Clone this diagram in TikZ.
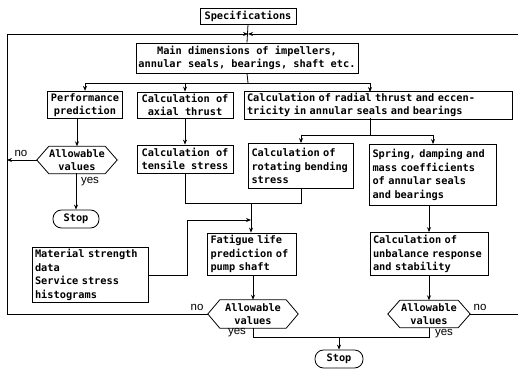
\documentclass[tikz,border=0pt]{standalone}
\usepackage{fontspec}
\setmonofont{DejaVu Sans Mono}
\setsansfont{Liberation Sans}
\usetikzlibrary{arrows.meta}
\tikzset{
  txt/.style={font=\ttfamily\bfseries\fontsize{10.3}{13.5}\selectfont},
  box/.style={txt, draw, line width=0.8pt, inner sep=2pt, align=center},
  lbox/.style={txt, draw, line width=0.8pt, inner xsep=3pt, inner ysep=2pt, align=left},
  hexa/.style={txt, inner sep=0pt, align=center},
  frame/.style={line width=0.8pt},
  stopbox/.style={txt, draw, line width=0.8pt, rounded corners=8.5pt, minimum width=46, minimum height=18, inner sep=1pt},
  conn/.style={line width=0.8pt},
  arr/.style={line width=0.8pt, -{Stealth[length=5pt,width=4pt]}},
  lab/.style={font=\sffamily\fontsize{11.5}{12}\selectfont, inner sep=0pt},
}
\newcommand\hexframe[2]{%
  \coordinate (#1-w) at ([xshift=-#2]#1.west);
  \coordinate (#1-e) at ([xshift=#2]#1.east);
  \draw[frame] (#1.north west) -- (#1.north east) -- (#1-e) -- (#1.south east)
     -- (#1.south west) -- (#1-w) -- cycle;}
\begin{document}
\begin{tikzpicture}[x=1pt,y=-1pt]
\useasboundingbox (0,0) rectangle (518,371);
% boxes
\node[box, minimum width=96, minimum height=16] (spec) at (248,16) {Specifications};
\node[box, minimum width=222, minimum height=30] (main) at (247,58) {Main dimensions of impellers,\\annular seals, bearings, shaft etc.};
\node[box, minimum width=75, minimum height=26] (perf) at (85,105) {Performance\\prediction};
\node[box, minimum width=96, minimum height=26] (axial) at (185,105) {Calculation of\\axial thrust};
\node[lbox, text width=262, minimum height=26] (radial) at (378,105) {Calculation of radial thrust and eccen-\\tricity in annular seals and bearings};
\node[hexa, minimum width=56, minimum height=27] (hex1) at (77,160) {Allowable\\values};
\hexframe{hex1}{12pt}
\node[stopbox] (stop1) at (76,219) {Stop};
\node[box, minimum width=96, minimum height=28] (tens) at (185,159) {Calculation of\\tensile stress};
\node[lbox, text width=99, minimum height=45] (rot) at (301,166) {Calculation of\\rotating bending\\stress};
\node[lbox, text width=121, minimum height=61] (spring) at (433,175) {Spring, damping and\\mass coefficients\\of annular seals\\and bearings};
\node[lbox, text width=110, minimum height=54] (mat) at (90,275) {Material strength\\data\\Service stress\\histograms};
\node[lbox, text width=83, minimum height=42] (fat) at (252,254) {Fatigue life\\prediction of\\pump shaft};
\node[lbox, text width=112, minimum height=43] (unb) at (429,254) {Calculation of\\unbalance response\\and stability};
\node[hexa, minimum width=66, minimum height=28] (hex2) at (253,314) {Allowable\\values};
\hexframe{hex2}{12pt}
\node[hexa, minimum width=58, minimum height=27] (hex3) at (429,314) {Allowable\\values};
\hexframe{hex3}{12pt}
\node[stopbox, minimum width=48] (stop2) at (339,359) {Stop};
% top
\coordinate (jtop) at (248,34);
\coordinate (redge1) at (518,314);
\coordinate (redge2) at (518,34);
\draw[conn] (spec.south) -- (main.north);
\draw[arr] (hex2-w) -- (7,314) -- (7,34) -- (jtop);
\draw[conn] (hex3-e) -- (redge1);
\draw[arr] (redge2) -- (jtop);
% main distribution
\coordinate (j1) at (248,83);
\draw[conn] (main.south) -- (j1);
\draw[conn] (perf.north |- j1) -- (370,83);
\draw[arr] (perf.north |- j1) -- (perf.north);
\draw[arr] (axial.north |- j1) -- (axial.north);
\draw[arr] (370,83) -- (370,92);
% left column
\draw[arr] (hex1.north |- perf.south) -- (hex1.north);
\draw[arr] (hex1.south) -- (stop1.north |- hex1.south) -- (stop1.north);
\draw[arr] (hex1-w) -- (7,160);
\node[lab] (no1) at (21,153) {no};
\node[lab] (yes1) at (90,182) {yes};
% axial -> tensile
\draw[arr] (axial.south) -- (tens.north);
% radial distribution
\coordinate (j2) at (370,135);
\draw[conn] (370,118) -- (j2);
\draw[conn] (rot.north |- j2) -- (spring.north |- j2);
\draw[arr] (rot.north |- j2) -- (rot.north);
\draw[arr] (spring.north |- j2) -- (spring.north);
% merge to fatigue
\coordinate (j3) at (251,203);
\draw[conn] (tens.south) -- (tens.south |- j3) -- (rot.south |- j3) -- (rot.south);
\draw[arr] (j3) -- (fat.north -| j3);
\draw[arr] (mat.east) -- (187,275) -- (187,220) -- (251,220);
% fatigue -> hex2
\draw[arr] (fat.south -| hex2.north) -- (hex2.north);
% spring -> unbalance -> hex3
\draw[arr] (spring.south -| unb.north) -- (unb.north);
\draw[arr] (unb.south) -- (hex3.north);
% yes join
\coordinate (j4) at (339,337);
\draw[conn] (hex2.south) -- (hex2.south |- j4) -- (hex3.south |- j4) -- (hex3.south);
\draw[arr] (j4) -- (stop2.north);
\node[lab] (no2) at (197,307) {no};
\node[lab] (yes2) at (237,333) {yes};
\node[lab] (no3) at (480,307) {no};
\node[lab] (yes3) at (444,334) {yes};
\end{tikzpicture}
\end{document}
